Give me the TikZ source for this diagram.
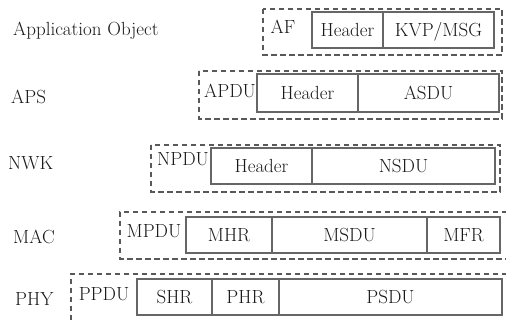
\documentclass[tikz,border=0pt]{standalone}
\begin{document}
\begin{tikzpicture}[x=1pt,y=-1pt,
  every node/.style={font=\fontsize{19}{22}\selectfont, text=black!90},
  cell/.style={draw=black!60, line width=1.1pt, rectangle, inner sep=0pt, outer sep=0pt,
    anchor=north west, text height=13pt, text depth=0pt},
  frame/.style={draw=black!65, line width=1.3pt, dash pattern=on 5.5pt off 3.5pt},
  lbl/.style={anchor=base west, inner sep=0pt},
  pdu/.style={anchor=base, inner sep=0pt}]
\useasboundingbox (0,0) rectangle (506,320);
% layer labels
\node[lbl] (lapp) at (13,36) {Application Object};
\node[lbl] (laps) at (11,104) {APS};
\node[lbl] (lnwk) at (8,170) {NWK};
\node[lbl] (lmac) at (13,244) {MAC};
\node[lbl] (lphy) at (15,306) {PHY};
% AF
\draw[frame] (263,9) rectangle (502,55);
\node[pdu] (af) at (283,34) {AF};
\node[cell, minimum width=71, minimum height=36] (afh) at (312,12) {Header};
\node[cell, minimum width=111, minimum height=36] (afk) at (383,12) {KVP/MSG};
% APS
\draw[frame] (199,71) rectangle (502,119);
\node[pdu] (apdu) at (230,98) {APDU};
\node[cell, minimum width=101, minimum height=38] (apsh) at (257,74) {Header};
\node[cell, minimum width=141, minimum height=38] (asdu) at (358,74) {ASDU};
% NWK
\draw[frame] (151,145) rectangle (500,192);
\node[pdu] (npdu) at (183,166) {NPDU};
\node[cell, minimum width=101, minimum height=36] (nwkh) at (211,148) {Header};
\node[cell, minimum width=183, minimum height=36] (nsdu) at (312,148) {NSDU};
% MAC
\draw[frame] (507,212) -| (120,259) -- (507,259);
\node[pdu] (mpdu) at (154,238) {MPDU};
\node[cell, minimum width=86, minimum height=36] (mhr) at (186,217) {MHR};
\node[cell, minimum width=155, minimum height=36] (msdu) at (272,217) {MSDU};
\node[cell, minimum width=73, minimum height=36] (mfr) at (427,217) {MFR};
% PHY
\draw[frame] (507,274) -| (71,321);
\node[pdu] (ppdu) at (104,301) {PPDU};
\node[cell, minimum width=75, minimum height=36] (shr) at (137,279) {SHR};
\node[cell, minimum width=67, minimum height=36] (phr) at (212,279) {PHR};
\node[cell, minimum width=223, minimum height=36] (psdu) at (279,279) {PSDU};
\end{tikzpicture}
\end{document}
